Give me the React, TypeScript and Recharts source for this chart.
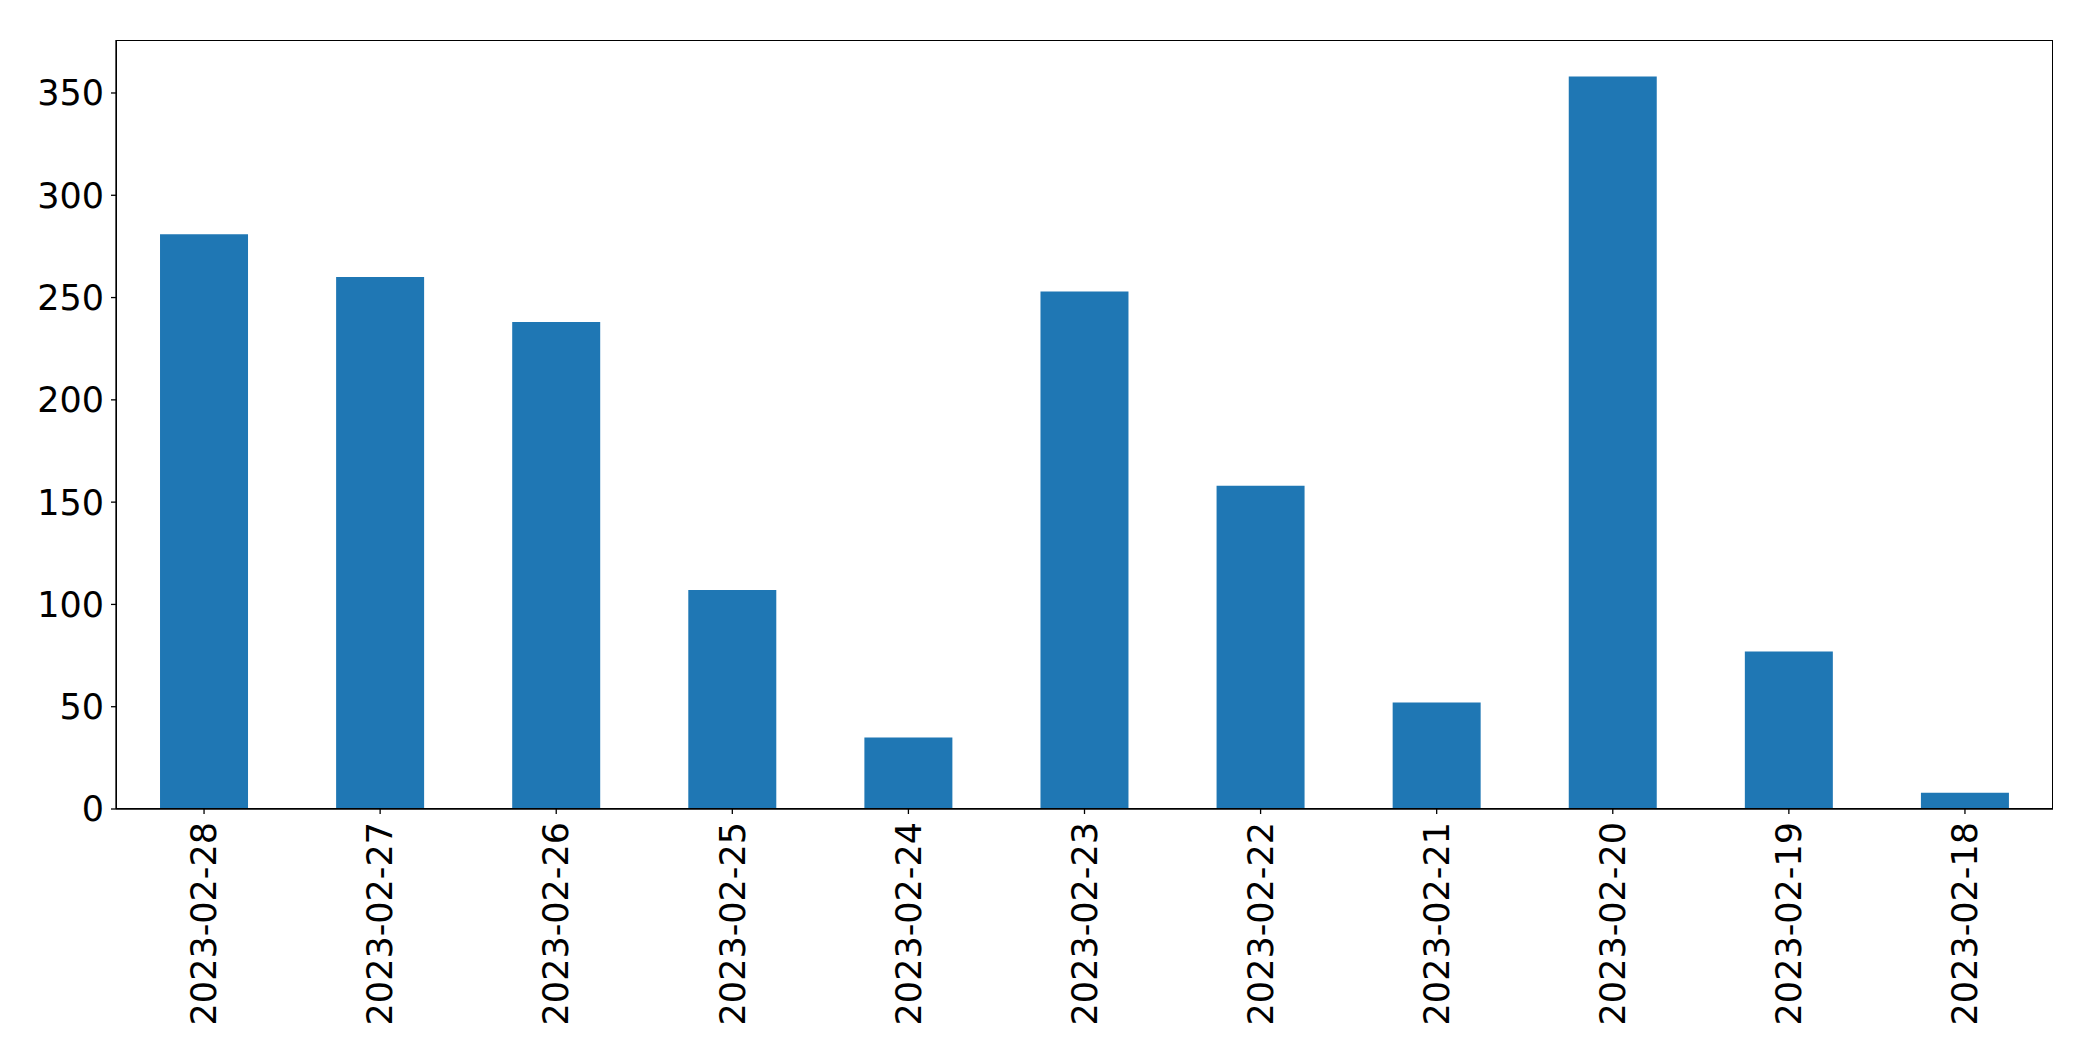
import React from 'react';
import { BarChart, Bar, XAxis, YAxis } from 'recharts';

const dates = [
  '2023-02-28', '2023-02-27', '2023-02-26', '2023-02-25', '2023-02-24', '2023-02-23',
  '2023-02-22', '2023-02-21', '2023-02-20', '2023-02-19', '2023-02-18',
];
const counts = [281, 260, 238, 107, 35, 253, 158, 52, 358, 77, 8];
const yTicks = [0, 50, 100, 150, 200, 250, 300, 350];

const data = dates.map((d, i) => ({ date: d, count: counts[i] }));

const FONT = '"DejaVu Sans", sans-serif';

// plot box (matplotlib-style frame)
const M = { top: 40, right: 40, left: 116, bottom: 252 };
const W = 2093;
const H = 1061;

const DateTick = (props: any) => {
  const { x, y, payload } = props;
  return (
    <text
      transform={`translate(${x}, ${y - 1}) rotate(-90)`}
      textAnchor="end"
      dy="0.35em"
      fontSize={35}
      fontFamily={FONT}
      fill="#000"
    >
      {payload.value}
    </text>
  );
};

const App: React.FC = () => {
  return (
    <div style={{ position: 'absolute', left: 0, top: 0, width: W, height: H, background: '#fff' }}>
      <BarChart
        width={W}
        height={H}
        data={data}
        margin={{ top: M.top, right: M.right, left: 0, bottom: 0 }}
        barCategoryGap="25%"
      >
        <XAxis
          dataKey="date"
          height={M.bottom}
          interval={0}
          tick={<DateTick />}
          tickSize={5}
          tickMargin={9}
          axisLine={{ stroke: '#000', strokeWidth: 1.3 }}
          tickLine={{ stroke: '#000', strokeWidth: 1.3 }}
        />
        <YAxis
          width={M.left}
          domain={[0, 375.9]}
          ticks={yTicks}
          tickSize={5}
          tickMargin={7}
          tick={{ fontSize: 35, fontFamily: FONT, fill: '#000' }}
          axisLine={{ stroke: '#000', strokeWidth: 1.3 }}
          tickLine={{ stroke: '#000', strokeWidth: 1.3 }}
        />
        <Bar dataKey="count" fill="#1f77b4" isAnimationActive={false} />
      </BarChart>
      <div
        style={{
          position: 'absolute',
          left: M.left - 0.5,
          top: M.top - 0.5,
          width: W - M.left - M.right,
          height: H - M.top - M.bottom,
          border: '1.3px solid #000',
          boxSizing: 'border-box',
          pointerEvents: 'none',
        }}
      />
    </div>
  );
};

export default App;
